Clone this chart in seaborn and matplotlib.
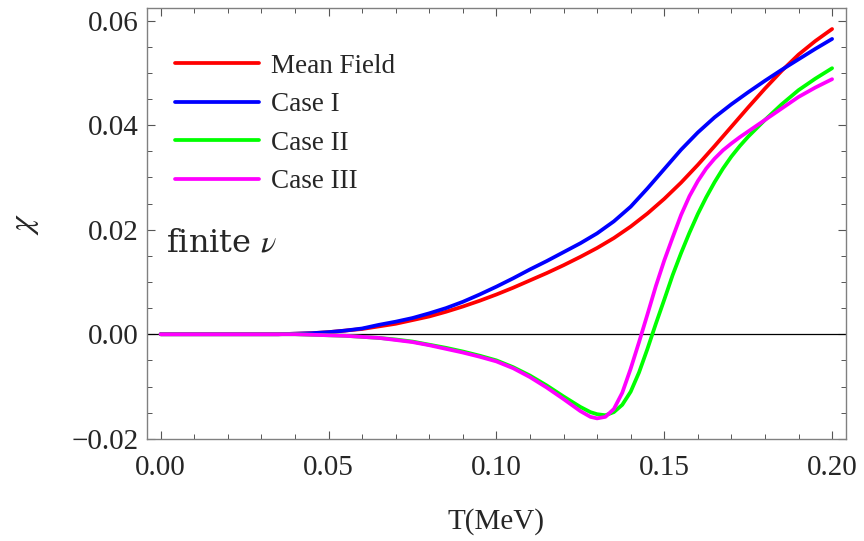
import numpy as np
import pandas as pd
import matplotlib
matplotlib.use("Agg")
import matplotlib.pyplot as plt
import seaborn as sns
from matplotlib.ticker import MultipleLocator

sns.set_style("ticks")
plt.rcParams['font.family'] = ['Liberation Serif', 'DejaVu Serif']
plt.rcParams['mathtext.fontset'] = 'stix'

# temperature grid (MeV)
T = [0.000, 0.005, 0.010, 0.015, 0.020, 0.025, 0.030, 0.035, 0.040, 0.045,
     0.050, 0.055, 0.060, 0.065, 0.070, 0.075, 0.080, 0.085, 0.090, 0.095,
     0.100, 0.105, 0.110, 0.115, 0.120, 0.125, 0.130, 0.135, 0.140, 0.145,
     0.150, 0.155, 0.160, 0.165, 0.170, 0.175, 0.180, 0.185, 0.190, 0.195,
     0.200]

mean_field = [0, 0, 0, 0, 0, 0, 0, 0, 0.0001, 0.0002,
              0.0004, 0.0007, 0.0010, 0.0015, 0.0020, 0.0027, 0.0034, 0.0043, 0.0053, 0.0064,
              0.0076, 0.0089, 0.0103, 0.0117, 0.0132, 0.0148, 0.0165, 0.0184, 0.0206, 0.0231,
              0.0259, 0.0290, 0.0324, 0.0360, 0.0397, 0.0434, 0.0470, 0.0504, 0.0535, 0.0561,
              0.0584]

case_1 = [0, 0, 0, 0, 0, 0, 0, 0, 0.0001, 0.0002,
          0.0004, 0.0007, 0.0011, 0.0018, 0.0024, 0.0031, 0.0040, 0.0050, 0.0062, 0.0076,
          0.0091, 0.0107, 0.0124, 0.0140, 0.0157, 0.0174, 0.0193, 0.0216, 0.0244, 0.0279,
          0.0316, 0.0353, 0.0386, 0.0415, 0.0440, 0.0463, 0.0485, 0.0506, 0.0526, 0.0546,
          0.0565]

# Case II / III are denser near the dip and the steep rise
T_dip = [0.000, 0.010, 0.020, 0.030, 0.040, 0.045, 0.050, 0.055, 0.060, 0.065,
         0.070, 0.075, 0.080, 0.085, 0.090, 0.095, 0.100, 0.105, 0.110, 0.115,
         0.120, 0.125, 0.128, 0.130, 0.1325, 0.135, 0.1375, 0.140, 0.1425, 0.145,
         0.1475, 0.150, 0.1525, 0.155, 0.1575, 0.160, 0.1625, 0.165, 0.1675, 0.170,
         0.1725, 0.175, 0.180, 0.185, 0.190, 0.195, 0.200]

case_2 = [0, 0, 0, 0, 0, -0.0001, -0.0002, -0.0003, -0.0005, -0.0007,
          -0.0010, -0.0014, -0.0020, -0.0026, -0.0033, -0.0041, -0.0050, -0.0063, -0.0079, -0.0098,
          -0.0119, -0.0139, -0.0149, -0.0153, -0.0155, -0.0149, -0.0135, -0.0110, -0.0073, -0.0028,
          0.0020, 0.0066, 0.0113, 0.0155, 0.0194, 0.0230, 0.0262, 0.0291, 0.0317, 0.0340,
          0.0360, 0.0378, 0.0410, 0.0440, 0.0467, 0.0489, 0.0509]

case_3 = [0, 0, 0, 0, 0, -0.0001, -0.0002, -0.0003, -0.0005, -0.0007,
          -0.0011, -0.0015, -0.0021, -0.0028, -0.0035, -0.0043, -0.0052, -0.0065, -0.0082, -0.0102,
          -0.0124, -0.0147, -0.0158, -0.0161, -0.0158, -0.0143, -0.0112, -0.0066, -0.0015, 0.0038,
          0.0092, 0.0141, 0.0185, 0.0228, 0.0264, 0.0293, 0.0317, 0.0336, 0.0352, 0.0365,
          0.0377, 0.0388, 0.0410, 0.0432, 0.0454, 0.0472, 0.0488]

labels = ['Mean Field', 'Case I', 'Case II', 'Case III']
colors = ['#ff0000', '#0000ff', '#00ff00', '#ff00ff']

fig = plt.figure(figsize=(8.64, 5.41), dpi=100)
ax = fig.add_axes([0.170, 0.188, 0.809, 0.798])

ax.axhline(0, color='black', lw=0.9, zorder=1)

series = [(T, mean_field), (T, case_1), (T_dip, case_2), (T_dip, case_3)]
for (x, y), lab, c in zip(series, labels, colors):
    sns.lineplot(x=x, y=y, ax=ax, color=c, lw=2.7, label=lab, sort=False)

ax.set_xlim(-0.0041, 0.2041)
ax.set_ylim(-0.0201, 0.0625)

ax.xaxis.set_major_locator(MultipleLocator(0.05))
ax.xaxis.set_minor_locator(MultipleLocator(0.01))
ax.yaxis.set_major_locator(MultipleLocator(0.02))
ax.yaxis.set_minor_locator(MultipleLocator(0.005))
ax.xaxis.set_major_formatter(matplotlib.ticker.FormatStrFormatter('%.2f'))
ax.yaxis.set_major_formatter(matplotlib.ticker.FuncFormatter(
    lambda v, p: ('\u22120.02' if v < 0 else '%.2f' % v)))

ax.tick_params(which='both', direction='in', top=True, right=True, color='#555555')
ax.tick_params(axis='y', which='major', length=6, width=0.8, labelsize=21, pad=6)
ax.tick_params(axis='x', which='major', length=6, width=0.8, labelsize=21, pad=11)
ax.tick_params(which='minor', length=3.5, width=0.7)
for s in ax.spines.values():
    s.set_color('#808080')
    s.set_linewidth(1.0)

ax.set_xlabel('T(MeV)', fontsize=21, labelpad=20)
ax.set_ylabel('$\\chi$', fontsize=24, labelpad=22)

leg = ax.legend(loc='upper left', bbox_to_anchor=(0.005, 0.95), frameon=False,
                fontsize=19.5, handlelength=3.1, handletextpad=0.45, labelspacing=0.5)
for h in leg.get_lines():
    h.set_linewidth(2.7)

ax.text(0.027, 0.454, 'finite $\\nu$', transform=ax.transAxes, fontsize=23,
        va='center', ha='left', family='DejaVu Serif')

fig.savefig('out.png', dpi=100)
